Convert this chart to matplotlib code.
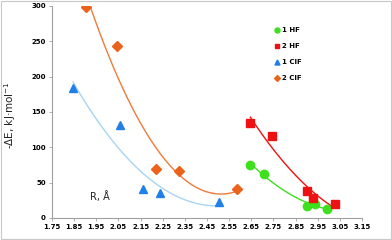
import matplotlib
matplotlib.use("Agg")
import matplotlib.pyplot as plt
import numpy as np

# data
hf1_r = [2.646, 2.708, 2.903, 2.939, 2.991]
hf1_e = [75.5, 62.7, 17.5, 20.0, 13.0]
hf2_r = [2.646, 2.742, 2.902, 2.928, 3.028]
hf2_e = [135.0, 116.0, 38.0, 29.0, 20.0]
clf1_r = [1.845, 2.057, 2.162, 2.239, 2.503]
clf1_e = [183.5, 131.6, 41.0, 35.0, 22.0]
clf2_r = [1.905, 2.042, 2.218, 2.324, 2.587]
clf2_e = [298.0, 243.0, 69.0, 66.5, 41.0]
xticks = [1.75, 1.85, 1.95, 2.05, 2.15, 2.25, 2.35, 2.45, 2.55, 2.65, 2.75, 2.85, 2.95, 3.05, 3.15]

series = [
    ("1 HF", hf1_r, hf1_e, "o", "#3de01c", "#3de01c", 6),
    ("2 HF", hf2_r, hf2_e, "s", "#ee1111", "#ee1111", 6),
    ("1 ClF", clf1_r, clf1_e, "^", "#2080e8", "#a8d4f2", 6),
    ("2 ClF", clf2_r, clf2_e, "D", "#ea621c", "#f07a3a", 5),
]

fig = plt.figure(figsize=(3.92, 2.4), dpi=100)
ax = fig.add_axes([52 / 392, 22 / 240, 310 / 392, 212 / 240])

for name, r, e, m, c, lc, ms in series:
    # 2nd order trend line, as in the original spreadsheet chart
    p = np.polyfit(r, e, 2)
    xs = np.linspace(min(r), max(r), 100)
    ax.plot(xs, np.polyval(p, xs), color=lc, lw=1.0, zorder=2)
    ax.plot(r, e, m, color=c, ms=ms, ls="none", label=name, zorder=3)

ax.set_xlim(1.75, 3.15)
ax.set_ylim(0, 300)
ax.set_xticks(xticks)
ax.set_xticklabels([f"{t:.2f}" for t in xticks])
ax.set_yticks(range(0, 301, 50))
for s in ["top", "right"]:
    ax.spines[s].set_visible(False)
for s in ["left", "bottom"]:
    ax.spines[s].set_color("#a0a0a0")
    ax.spines[s].set_linewidth(0.8)
ax.tick_params(length=2.5, width=0.6, color="#a0a0a0", labelsize=5, pad=2)
for lab in ax.get_xticklabels() + ax.get_yticklabels():
    lab.set_fontweight("bold")

ax.text(1.92, 25, "R, Å", fontsize=7, color="#222222")
fig.text(10 / 392, 0.52, "-ΔE, kJ·mol$^{-1}$", rotation=90, fontsize=7.5,
         ha="center", va="center", color="#222222")

leg = ax.legend(loc="upper left", bbox_to_anchor=(0.70, 0.93), frameon=False,
                handlelength=0.6, handletextpad=0.3,
                labelspacing=1.45, markerscale=0.6, prop={"weight": "bold", "size": 5})

fig.patches.append(plt.Rectangle((0.003, 0.005), 0.994, 0.99, transform=fig.transFigure,
                                 fill=False, edgecolor="#c8c8c8", lw=0.8))
fig.savefig("out.png", dpi=100)
